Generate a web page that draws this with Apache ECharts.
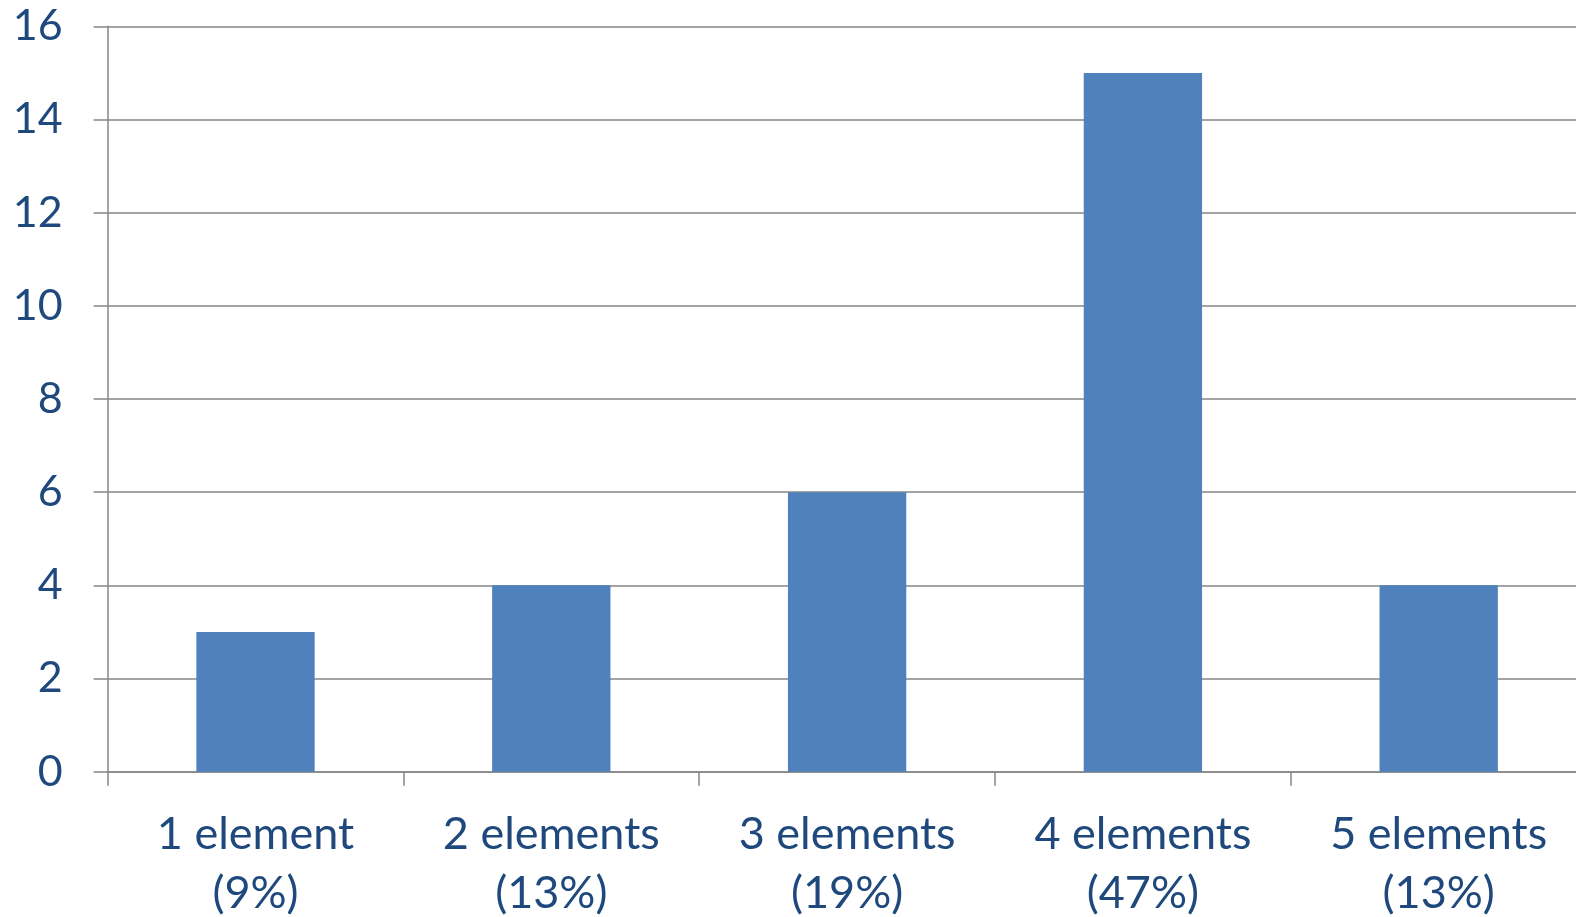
<!DOCTYPE html>
<html>
<head>
<meta charset="utf-8">
<script src="https://cdn.jsdelivr.net/npm/echarts@6/dist/echarts.min.js"></script>
<style>
html,body{margin:0;padding:0;background:#fff;}
#chart{width:1576px;height:917px;}
</style>
</head>
<body>
<div id="chart"></div>
<script>
const categories = ['1 element\n(9%)', '2 elements\n(13%)', '3 elements\n(19%)', '4 elements\n(47%)', '5 elements\n(13%)'];
const values = [3, 4, 6, 15, 4];
const yTicks = { min: 0, max: 16, interval: 2 };

const textColor = '#1F497D';
const gridColor = '#868686';
const chart = echarts.init(document.getElementById('chart'));
chart.setOption({
  backgroundColor: '#ffffff',
  animation: false,
  grid: { left: 107.6, width: 1479, top: 26.3, height: 771.7 - 26.3, containLabel: false, outerBoundsMode: 'none' },
  xAxis: {
    type: 'category',
    data: categories,
    boundaryGap: true,
    axisLine: { show: true, lineStyle: { color: gridColor, width: 1.5 } },
    axisTick: { show: true, length: 14, alignWithLabel: false, lineStyle: { color: gridColor, width: 1.5 } },
    axisLabel: { color: textColor, fontFamily: 'Lato', fontSize: 45, lineHeight: 59, margin: 33, interval: 0 },
    splitLine: { show: false }
  },
  yAxis: {
    type: 'value',
    min: yTicks.min, max: yTicks.max, interval: yTicks.interval,
    axisLine: { show: true, lineStyle: { color: gridColor, width: 1.5 } },
    axisTick: { show: true, length: 14, lineStyle: { color: gridColor, width: 1.5 } },
    axisLabel: { color: textColor, fontFamily: 'Lato', fontSize: 43, margin: 45 },
    splitLine: { show: true, lineStyle: { color: gridColor, width: 1.5 } }
  },
  series: [{
    type: 'bar',
    data: values,
    barWidth: '40%',
    itemStyle: { color: '#4F81BD' }
  }]
});
</script>
</body>
</html>
